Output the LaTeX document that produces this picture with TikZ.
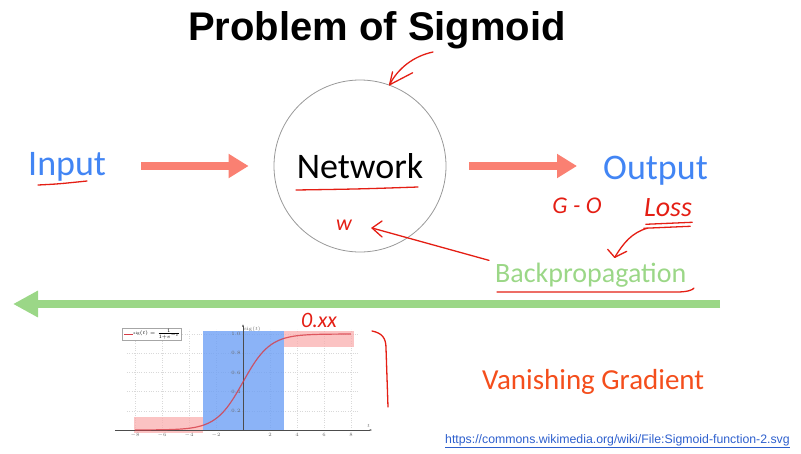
\documentclass[tikz,border=0pt]{standalone}
\usepackage{fontspec}
\usepackage{amsmath}
\usetikzlibrary{arrows.meta,calc}

\newfontfamily\slidefont{Carlito}
\newfontfamily\headfont{Liberation Sans}

\definecolor{slideblue}{RGB}{66,133,244}
\definecolor{salmon}{RGB}{250,128,114}
\definecolor{bpgreen}{RGB}{155,215,135}
\definecolor{inkred}{RGB}{228,30,20}
\definecolor{vanish}{RGB}{244,78,28}
\definecolor{linkblue}{RGB}{45,95,205}
\definecolor{boxblue}{RGB}{110,160,245}
\definecolor{boxpink}{RGB}{250,170,170}
\definecolor{sigred}{RGB}{215,60,70}

\begin{document}
\begin{tikzpicture}[x=1pt,y=-1pt,
  word/.style={inner sep=0pt,anchor=base west,font=\slidefont\fontsize{36}{36}\selectfont},
  flow/.style={salmon,line width=8pt,-{Triangle[length=20pt,width=23pt]}},
  ink/.style={inkred,line width=1.3pt,line cap=round,line join=round},
  inktext/.style={text=inkred,inner sep=0pt,font=\slidefont\itshape\fontsize{24}{24}\selectfont},
  tick/.style={font=\fontsize{5}{6}\selectfont,text=black!60,inner sep=1pt}]

\useasboundingbox (0,0) rectangle (801,453);

% title and the network
\node [inner sep=0pt,anchor=base,font=\headfont\bfseries\fontsize{40}{40}\selectfont] (title) at (377,40) {Problem of Sigmoid};
\node [draw=black!40,line width=0.8pt,circle,minimum size=172pt,inner sep=0pt,
       font=\slidefont\fontsize{36}{36}\selectfont] (network) at (360,166) {Network};

\node [word,text=slideblue] (input) at (28,175) {Input};
\node [word,text=slideblue] (output) at (603,179) {Output};

\draw [flow,shorten <=35pt,shorten >=25pt] (input.east |- network.center) -- (network.west);
\draw [flow,shorten <=23pt,shorten >=26pt] (network.east) -- (output.west |- network.center);

% backpropagation
\node [word,text=bpgreen,font=\slidefont\fontsize{28}{28}\selectfont] (backprop) at (495,282) {Backpropagation};
\coordinate (back-right) at (720,304);
\coordinate (back-left) at (13,304);
\draw [bpgreen,line width=8pt,-{Triangle[length=25pt,width=25pt]}] (back-right) -- (back-left);

\node [word,text=vanish,font=\slidefont\fontsize{29}{29}\selectfont] (vanishing) at (482,389) {Vanishing Gradient};
\node [inner sep=0pt,anchor=base west,text=linkblue,font=\headfont\fontsize{12.3}{13}\selectfont] (source) at (445,443)
  {\underline{https://commons.wikimedia.org/wiki/File:Sigmoid-function-2.svg}};

% handwriting
\node [inktext] (gminuso) at (577,206) {G - O};
\node [inktext,font=\slidefont\itshape\fontsize{28}{28}\selectfont] (loss) at (668,208) {Loss};
\node [inktext,font=\slidefont\itshape\fontsize{22}{22}\selectfont] (weight) at (344,225) {w};
\node [inktext,font=\slidefont\itshape\fontsize{22}{22}\selectfont] (approx) at (319,320) {0.xx};

\draw [ink] ($(input.base west)+(10,10)$) .. controls ($(input.base west)+(30,9)$) .. ($(input.base west)+(59,6)$);
\draw [ink] ($(network.center)+(-64,24)$) .. controls ($(network.center)+(0,23)$) .. ($(network.center)+(58,21)$);
\draw [ink] ($(backprop.base west)+(2,10)$) -- ($(backprop.base west)+(182,10)$)
  .. controls ($(backprop.base west)+(192,10)$) and ($(backprop.base west)+(198,8)$) .. ($(backprop.base west)+(199,6)$);

\coordinate (title-ink) at (433,52);
\draw [ink] (title-ink) .. controls (414,56) and (398,68) .. (network.70);
\draw [ink] (network.70) -- ++(3,-13);
\draw [ink] (network.70) -- ++(23,-12);

\coordinate (weight-tip) at ($(weight.east)+(20,3)$);
\draw [ink] ($(backprop.north west)+(-6,-2)$) -- (weight-tip);
\draw [ink] (weight-tip) -- ++(10,-7);
\draw [ink] (weight-tip) -- ++(10,9);

\draw [ink] ($(loss.south west)+(2,7)$) -- ($(loss.south east)+(0,5)$);
\draw [ink] ($(loss.south west)+(0,11)$) -- ($(loss.south east)+(-2,9)$);
\coordinate (loss-tip) at ($(backprop.north)+(24,-5)$);
\draw [ink] ($(loss.south west)+(3,11)$) .. controls (632,233) and (624,242) .. (loss-tip);
\draw [ink] (loss-tip) -- ++(-7,-8);
\draw [ink] (loss-tip) -- ++(12,-6);

\draw [ink] (372,331) .. controls (382,333) and (386,338) .. (386,348) -- (388,407);

% sigmoid plot
\begin{scope}[shift={(243,430)},x=13.5pt,y=96pt]
\foreach \v in {0.2,0.4,0.6,0.8,1.0}
  \draw [black!15,dotted] (-8.6,\v) -- (8.6,\v);
\foreach \t in {-8,-6,-4,-2,2,4,6,8}
  \draw [black!15,dotted] (\t,0) -- (\t,1.05);

\fill [boxblue,opacity=.8] (-3,0) rectangle (3,1.03);
\fill [boxpink,opacity=.7] (-8.1,-0.03) rectangle (-3,0.135);
\fill [boxpink,opacity=.7] (3,0.865) rectangle (8.2,1.03);

\draw [black!70,line width=0.4pt,-{Stealth[length=2.5pt]}] (-9.5,0) -- (9.55,0);
\draw [black!70,line width=0.4pt,-{Stealth[length=2.5pt]}] (0,0) -- (0,1.1);
\node [tick,above] (t-label) at (9.3,0.01) {$t$};
\node [tick,right] (sig-label) at (0,1.05) {sig$(t)$};

\foreach \t in {-8,-6,-4,-2,2,4,6,8}
  \node [tick,below] at (\t,-0.02) {$\t$};
\foreach \v in {0.2,0.4,0.6,0.8,1.0}
  \node [tick,left] at (-0.1,\v) {$\v$};

\draw [sigred,opacity=.8,line width=1.2pt,domain=-8:8,samples=60,smooth] plot (\x,{1/(1+exp(-\x))});

\node [draw=black!35,line width=0.3pt,inner sep=1.2pt,anchor=west,fill=white,
       font=\fontsize{4}{4}\selectfont] (legend) at (-8.96,1.0) {\hspace{10pt}sig$(t)=\frac{1}{1+e^{-t}}$};
\draw [sigred,line width=1pt] ($(legend.west)+(2pt,0)$) -- ++(9pt,0);
\end{scope}

\end{tikzpicture}
\end{document}
